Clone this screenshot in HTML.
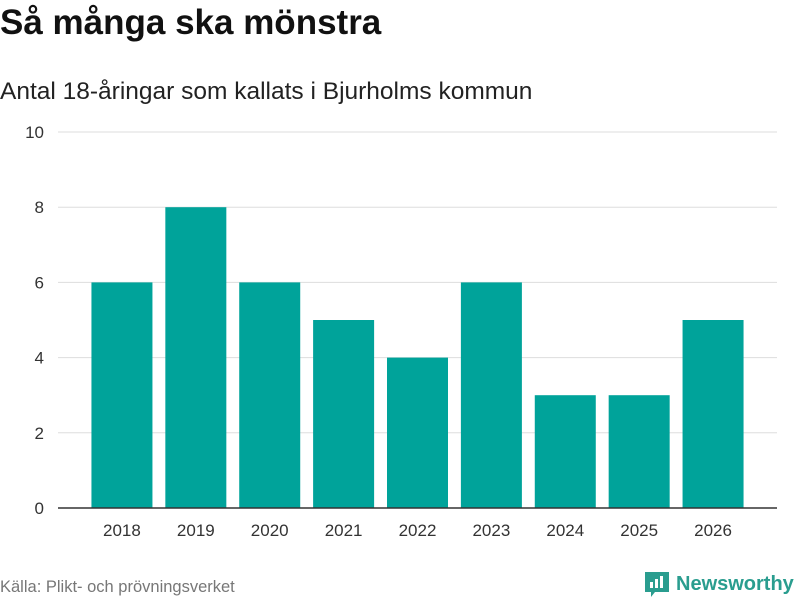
<!DOCTYPE html>
<html><head><meta charset="utf-8">
<style>
body{margin:0;width:800px;height:600px;background:#fff;font-family:"Liberation Sans","DejaVu Sans",sans-serif;overflow:hidden;position:relative}
.t{position:absolute;left:0;top:3px;font-size:35px;font-weight:bold;color:#111;margin:0}
.s{position:absolute;left:0;top:78px;font-size:24.5px;color:#222}
.src{position:absolute;left:0;top:578px;font-size:16.5px;color:#777}
.logo{position:absolute;left:645px;top:570px;display:flex;align-items:center;gap:7px;color:#2a9d8f;font-weight:bold;font-size:20px}
</style></head><body>
<h1 class="t">Så många ska mönstra</h1>
<div class="s">Antal 18-åringar som kallats i Bjurholms kommun</div>
<svg id="c" width="800" height="600" style="position:absolute;left:0;top:0"></svg>
<div class="src">Källa: Plikt- och prövningsverket</div>
<div class="logo">
<svg width="24" height="28" viewBox="0 0 24 28"><path d="M0 2h24v20H10l-4 5v-5H0z" fill="#2a9d8f"/><rect x="5" y="12" width="3" height="6" fill="#fff"/><rect x="10" y="9" width="3" height="9" fill="#fff"/><rect x="15" y="6" width="3" height="12" fill="#fff"/></svg>
<span>Newsworthy</span></div>
<script>
const categories=["2018","2019","2020","2021","2022","2023","2024","2025","2026"];
const values=[6,8,6,5,4,6,3,3,5];
const ticks=[0,2,4,6,8,10];
const NS="http://www.w3.org/2000/svg";
const svg=document.getElementById('c');
const y0=508,y1=132,ymax=10;
const y=v=>y0-(v/ymax)*(y0-y1);
const bx0=85,bx1=750,step=(bx1-bx0)/categories.length,bw=61;
const x=i=>bx0+step*i+step/2;
function mk(t,a){const e=document.createElementNS(NS,t);for(const k in a)e.setAttribute(k,a[k]);svg.appendChild(e);return e;}
ticks.forEach(t=>{
 if(t>0){const g=mk('line',{x1:58,x2:777,y1:y(t),y2:y(t),stroke:'#ddd','stroke-width':1});
 
 }
 const l=mk('text',{x:44,y:y(t)+6,'text-anchor':'end','font-size':17,fill:'#333'});
 l.textContent=t;
 
 
});
values.forEach((v,i)=>{
 const r=mk('rect',{x:x(i)-bw/2,y:y(v),width:bw,height:y0-y(v),fill:'#00a39a'});
 
 
 const l=mk('text',{x:x(i),y:536,'text-anchor':'middle','font-size':17,fill:'#333'});
 l.textContent=categories[i];
 
 
});
const ax=mk('line',{x1:58,x2:777,y1:y0,y2:y0,stroke:'#333','stroke-width':1.5});


</script>
</body></html>
